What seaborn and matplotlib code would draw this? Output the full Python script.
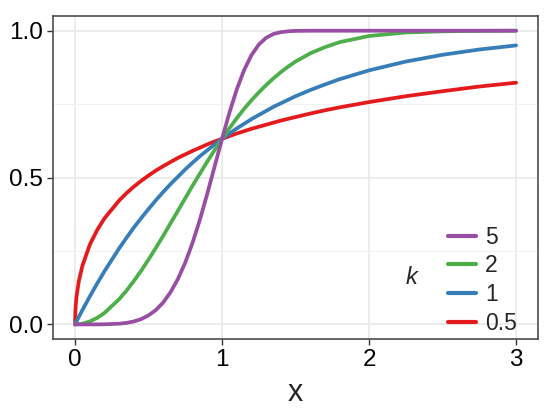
import numpy as np
import pandas as pd
import matplotlib
matplotlib.use('Agg')
import matplotlib.pyplot as plt
import seaborn as sns
from matplotlib.lines import Line2D

X_VALS = [0, 0.002, 0.005, 0.01, 0.025, 0.05, 0.1, 0.15, 0.2, 0.3, 0.35, 0.4, 0.45, 0.5, 0.55,
          0.6, 0.65, 0.7, 0.75, 0.8, 0.85, 0.9, 0.95, 1.0, 1.05, 1.1, 1.15, 1.2, 1.25, 1.3,
          1.35, 1.4, 1.45, 1.5, 1.6, 1.7, 1.8, 2.0, 2.25, 2.5, 2.75, 3.0]

# one curve per k
Y_K05 = [0, 0.044, 0.068, 0.095, 0.146, 0.200, 0.271, 0.321, 0.361, 0.422, 0.447, 0.469, 0.489,
         0.507, 0.524, 0.539, 0.553, 0.567, 0.579, 0.591, 0.602, 0.613, 0.623, 0.632, 0.641,
         0.650, 0.658, 0.666, 0.673, 0.680, 0.687, 0.694, 0.700, 0.706, 0.718, 0.729, 0.739,
         0.757, 0.777, 0.794, 0.810, 0.823]
Y_K1 = [0, 0.002, 0.005, 0.010, 0.025, 0.049, 0.095, 0.139, 0.181, 0.259, 0.295, 0.330, 0.362,
        0.393, 0.423, 0.451, 0.478, 0.503, 0.528, 0.551, 0.573, 0.593, 0.613, 0.632, 0.650,
        0.667, 0.683, 0.699, 0.713, 0.727, 0.741, 0.753, 0.765, 0.777, 0.798, 0.817, 0.835,
        0.865, 0.895, 0.918, 0.936, 0.950]
Y_K2 = [0, 0, 0, 0.0001, 0.0006, 0.0025, 0.010, 0.022, 0.039, 0.086, 0.115, 0.148, 0.183,
        0.221, 0.261, 0.302, 0.345, 0.387, 0.430, 0.473, 0.514, 0.555, 0.594, 0.632, 0.668,
        0.702, 0.734, 0.763, 0.790, 0.815, 0.838, 0.859, 0.878, 0.895, 0.923, 0.944, 0.961,
        0.982, 0.994, 0.998, 0.9995, 1.0]
Y_K5 = [0, 0, 0, 0, 0, 0, 0, 0.0001, 0.0003, 0.0024, 0.005, 0.010, 0.018, 0.031, 0.049,
        0.075, 0.110, 0.155, 0.211, 0.279, 0.358, 0.446, 0.539, 0.632, 0.721, 0.800, 0.866,
        0.917, 0.953, 0.976, 0.989, 0.995, 0.998, 0.9995, 1.0, 1.0, 1.0, 1.0, 1.0, 1.0, 1.0, 1.0]

K_LABELS = ['0.5', '1', '2', '5']
K_COLORS = ['#E41A1C', '#377EB8', '#4DAF4A', '#984EA3']

df = pd.concat([
    pd.DataFrame({'x': X_VALS, 'y': ys, 'k': lab})
    for lab, ys in zip(K_LABELS, [Y_K05, Y_K1, Y_K2, Y_K5])
])

sns.set_style('white')
plt.rcParams['font.family'] = ['Liberation Sans', 'DejaVu Sans']

fig = plt.figure(figsize=(5.5, 4.11), dpi=100)
ax = fig.add_axes([0.0964, 0.175, 0.882, 0.786])

sns.lineplot(data=df, x='x', y='y', hue='k', hue_order=K_LABELS,
             palette=K_COLORS, linewidth=2.7, ax=ax, legend=False, sort=False)

ax.set_xlim(-0.15, 3.15)
ax.set_ylim(-0.05, 1.05)
ax.set_xticks([0, 1, 2, 3])
ax.set_xticklabels(['0', '1', '2', '3'])
ax.set_yticks([0, 0.5, 1.0])
ax.set_yticklabels(['0.0', '0.5', '1.0'])
ax.set_yticks([0.25, 0.75], minor=True)

ax.grid(True, which='major', color='#EBEBEB', linewidth=1.3, zorder=0)
ax.grid(True, which='minor', axis='y', color='#F2F2F2', linewidth=0.8, zorder=0)
ax.set_axisbelow(True)

for s in ax.spines.values():
    s.set_visible(True)
    s.set_color('#4D4D4D')
    s.set_linewidth(1.2)

ax.tick_params(axis='both', which='major', length=4, width=1, color='#333333',
               labelsize=17.5, labelcolor='black', pad=3, bottom=True, left=True)
ax.tick_params(axis='both', which='minor', length=0)

ax.set_xlabel('x', fontsize=22, labelpad=5)
ax.set_ylabel('')

# legend: reversed order, title 'k' sits to the left of the keys
handles = [Line2D([0], [0], color=c, linewidth=3) for c in K_COLORS][::-1]
leg = ax.legend(handles, K_LABELS[::-1], loc='lower right', frameon=False,
                fontsize=16.5, handlelength=1.2, handletextpad=0.4, labelspacing=0.25,
                borderaxespad=0.0, bbox_to_anchor=(0.975, -0.015))
ax.text(0.74, 0.19, 'k', transform=ax.transAxes, fontsize=17, fontstyle='italic',
        ha='center', va='center')

fig.savefig('out.png', dpi=100)
